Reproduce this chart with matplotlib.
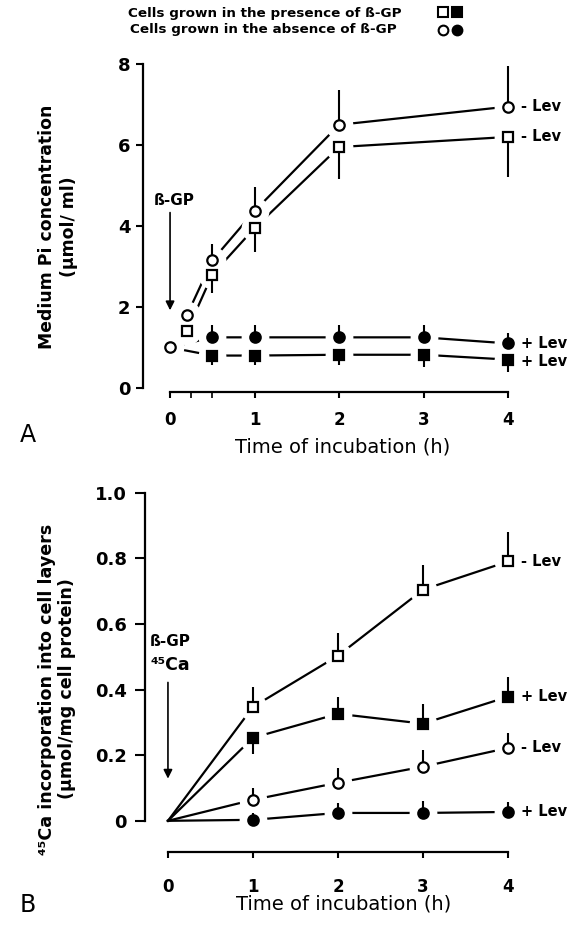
import matplotlib.pyplot as plt
from matplotlib.lines import Line2D

# ---- panel A: medium Pi concentration (umol/ml) ----
t_a_minus = [0, 0.2, 0.5, 1, 2, 4]          # - Lev series
pi_circ_open = [1.0, 1.8, 3.15, 4.37, 6.5, 6.95]
pi_circ_open_err = [0, 0.1, 0.4, 0.6, 0.85, 1.0]      # upward
pi_sq_open = [1.0, 1.4, 2.8, 3.95, 5.95, 6.2]
pi_sq_open_err = [0, 0.1, 0.45, 0.6, 0.8, 1.0]        # downward

t_a_plus = [0, 0.5, 1, 2, 3, 4]             # + Lev series
pi_circ_fill = [1.0, 1.25, 1.25, 1.25, 1.25, 1.1]
pi_circ_fill_err = [0, 0.3, 0.3, 0.3, 0.3, 0.25]      # upward
pi_sq_fill = [1.0, 0.8, 0.8, 0.82, 0.82, 0.7]
pi_sq_fill_err = [0, 0.23, 0.23, 0.25, 0.3, 0.3]      # downward

a_yticks = [0, 2, 4, 6, 8]
a_yticklabels = ["0", "2", "4", "6", "8"]

# ---- panel B: 45Ca incorporation (umol/mg cell protein) ----
t_b = [0, 1, 2, 3, 4]
ca_sq_open = [0, 0.347, 0.503, 0.704, 0.79]
ca_sq_open_err = [0, 0.06, 0.07, 0.075, 0.09]         # upward
ca_sq_fill = [0, 0.253, 0.326, 0.296, 0.378]
ca_sq_fill_lo = [0, 0.05, 0, 0, 0]
ca_sq_fill_hi = [0, 0, 0.05, 0.06, 0.06]
ca_circ_open = [0, 0.064, 0.116, 0.165, 0.222]
ca_circ_open_err = [0, 0.035, 0.045, 0.05, 0.045]     # upward
ca_circ_fill = [0, 0.003, 0.024, 0.024, 0.027]
ca_circ_fill_err = [0, 0.02, 0.03, 0.035, 0.03]       # upward

b_yticks = [0, 0.2, 0.4, 0.6, 0.8, 1.0]
b_yticklabels = ["0", "0.2", "0.4", "0.6", "0.8", "1.0"]

xticks = [0, 1, 2, 3, 4]
xticklabels = ["0", "1", "2", "3", "4"]

legend_labels = ["Cells grown in the presence of ß-GP",
                 "Cells grown in the absence of ß-GP"]

plt.rcParams['font.family'] = ['DejaVu Sans']

LW = 1.6
MS = 7.5
HALO = 20   # white disc under each marker -> gap between line and marker


def draw_series(ax, t, y, lo, hi, marker, fill, first=1):
    ax.plot(t, y, color='k', lw=LW, zorder=1)
    t2, y2 = t[first:], y[first:]
    ax.plot(t2, y2, ls='none', marker='o', ms=HALO, mfc='white', mec='white', mew=0, zorder=2)
    ax.errorbar(t2, y2, yerr=[lo[first:], hi[first:]], fmt='none', ecolor='k',
                elinewidth=1.5, capsize=0, zorder=3)
    ax.plot(t2, y2, ls='none', marker=marker, ms=MS, mfc=fill, mec='k', mew=1.6, zorder=4)


def style_axes(ax, ymax, ylen, ypad, xpad, labelpad):
    for s in ['top', 'right']:
        ax.spines[s].set_visible(False)
    ax.spines['left'].set_bounds(0, ymax)
    ax.spines['bottom'].set_bounds(0, 4)
    ax.spines['left'].set_linewidth(1.6)
    ax.spines['bottom'].set_linewidth(1.6)
    ax.set_xticks(xticks)
    ax.set_xticklabels(xticklabels, fontsize=12, fontweight='bold')
    ax.tick_params(axis='y', length=ylen, width=1.5, pad=ypad)
    ax.tick_params(axis='x', length=4, width=1.5, pad=xpad)
    ax.set_xlabel("Time of incubation (h)", fontsize=14, labelpad=labelpad)


fig = plt.figure(figsize=(5.75, 9.26), dpi=100)

# ---------- panel A ----------
axA = fig.add_axes([143 / 575, 1 - 392 / 926, 399 / 575, 332 / 926])
zeros6 = [0] * 6
draw_series(axA, t_a_plus, pi_sq_fill, pi_sq_fill_err, zeros6, 's', 'k')
draw_series(axA, t_a_plus, pi_circ_fill, zeros6, pi_circ_fill_err, 'o', 'k')
draw_series(axA, t_a_minus, pi_sq_open, pi_sq_open_err, zeros6, 's', 'white')
draw_series(axA, t_a_minus, pi_circ_open, zeros6, pi_circ_open_err, 'o', 'white', first=0)

axA.set_xlim(-0.32, 4.4)
axA.set_ylim(-0.1, 8.1)
axA.set_yticks(a_yticks)
axA.set_yticklabels(a_yticklabels, fontsize=13, fontweight='bold')
axA.set_xticks([0.25, 0.5], minor=True)
axA.tick_params(axis='x', which='minor', length=4, width=1.2)
style_axes(axA, 8, 5, 4, 10, 6)

for yv, lab in [(pi_circ_open[-1], "- Lev"), (pi_sq_open[-1], "- Lev"),
                (pi_circ_fill[-1], "+ Lev"), (pi_sq_fill[-1] - 0.05, "+ Lev")]:
    axA.text(4.15, yv, lab, va='center', ha='left', fontsize=10.5, fontweight='bold')

axA.annotate("", xy=(0, 1.85), xytext=(0, 4.4),
             arrowprops=dict(arrowstyle='-|>', color='k', lw=1.2, mutation_scale=13))
axA.text(0.05, 4.62, "ß-GP", ha='center', va='center', fontsize=11, fontweight='bold')

# ---------- panel B ----------
axB = fig.add_axes([145 / 575, 1 - 852 / 926, 397 / 575, 366 / 926])
zeros5 = [0] * 5
draw_series(axB, t_b, ca_circ_fill, zeros5, ca_circ_fill_err, 'o', 'k')
draw_series(axB, t_b, ca_circ_open, zeros5, ca_circ_open_err, 'o', 'white')
draw_series(axB, t_b, ca_sq_fill, ca_sq_fill_lo, ca_sq_fill_hi, 's', 'k')
draw_series(axB, t_b, ca_sq_open, zeros5, ca_sq_open_err, 's', 'white')

axB.set_xlim(-0.27, 4.4)
axB.set_ylim(-0.095, 1.02)
axB.set_yticks(b_yticks)
axB.set_yticklabels(b_yticklabels, fontsize=13, fontweight='bold')
style_axes(axB, 1.0, 7, 6, 15, -1)

for yv, lab in [(ca_sq_open[-1], "- Lev"), (ca_sq_fill[-1], "+ Lev"),
                (ca_circ_open[-1], "- Lev"), (ca_circ_fill[-1], "+ Lev")]:
    axB.text(4.15, yv, lab, va='center', ha='left', fontsize=10.5, fontweight='bold')

axB.annotate("", xy=(0, 0.12), xytext=(0, 0.43),
             arrowprops=dict(arrowstyle='-|>', color='k', lw=1.2, mutation_scale=13))
axB.text(0.03, 0.546, "ß-GP", ha='center', va='center', fontsize=11, fontweight='bold')
axB.text(0.03, 0.474, "⁴⁵Ca", ha='center', va='center', fontsize=12.5, fontweight='bold')

# ---------- y labels, panel letters ----------
fig.text(58 / 575, 1 - 227 / 926, "Medium Pi concentration\n(µmol/ ml)", rotation=90,
         ha='center', va='center', fontsize=12.4, fontweight='bold', linespacing=1.25)
fig.text(57 / 575, 1 - 689 / 926, "⁴⁵Ca incorporation into cell layers\n(µmol/mg cell protein)",
         rotation=90, ha='center', va='center', fontsize=12.6, fontweight='bold', linespacing=1.2)
fig.text(20 / 575, 1 - 435 / 926, "A", ha='left', va='center', fontsize=17)
fig.text(20 / 575, 1 - 905 / 926, "B", ha='left', va='center', fontsize=17)

# ---------- legend at the top ----------
fig.text(128 / 575, 1 - 13 / 926, legend_labels[0], ha='left', va='center',
         fontsize=9.7, fontweight='bold')
fig.text(130 / 575, 1 - 29 / 926, legend_labels[1], ha='left', va='center',
         fontsize=9.7, fontweight='bold')
sq_o = Line2D([], [], ls='none', marker='s', ms=7, mfc='white', mec='k', mew=1.5)
sq_f = Line2D([], [], ls='none', marker='s', ms=7, mfc='k', mec='k', mew=1.5)
c_o = Line2D([], [], ls='none', marker='o', ms=7, mfc='white', mec='k', mew=1.5)
c_f = Line2D([], [], ls='none', marker='o', ms=7, mfc='k', mec='k', mew=1.5)
fig.legend(handles=[sq_o, c_o, sq_f, c_f], labels=["", "", "", ""], ncol=2,
           frameon=False, loc='center', bbox_to_anchor=(450 / 575, 1 - 22.5 / 926),
           handlelength=0.8, handletextpad=0, columnspacing=0.2, labelspacing=0.35,
           prop=dict(size=9.7))

fig.savefig("out.png", dpi=100)
